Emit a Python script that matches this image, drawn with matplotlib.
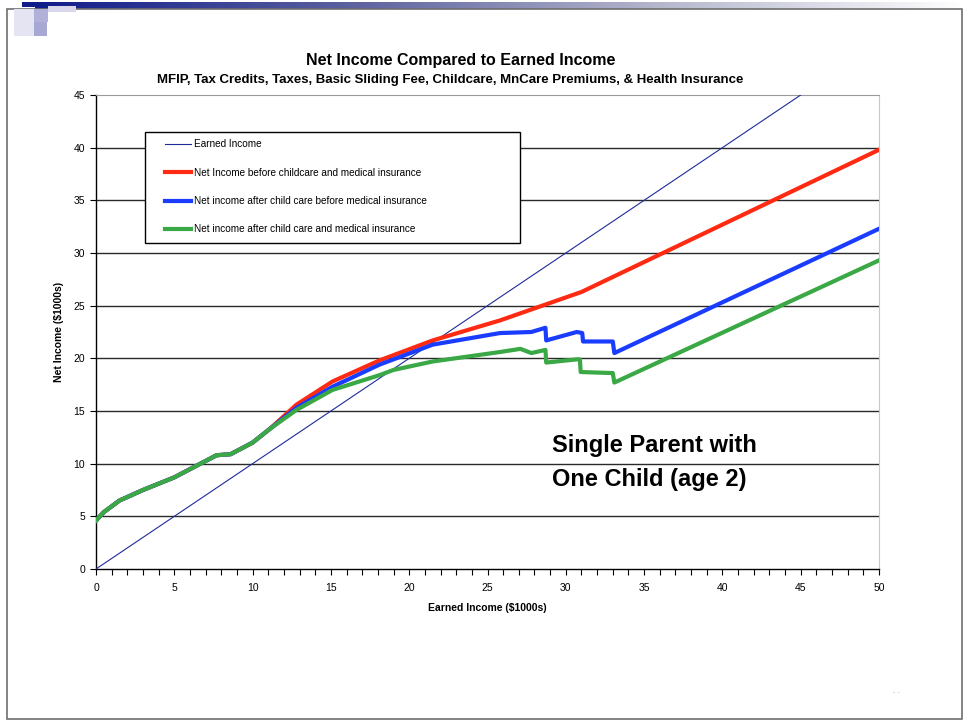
import numpy as np
import matplotlib.pyplot as plt
from matplotlib.patches import Rectangle

plt.rcParams['font.family'] = ['Liberation Sans', 'DejaVu Sans']

# Earned income (identity line)
earned_x = [0, 50]
earned_y = [0, 50]

# Net income before childcare and medical insurance
red_x = [0, 0.5, 1.5, 3, 5, 7.7, 8.6, 10, 11.1, 12.8, 15.1, 18.1, 21.5, 25.8, 31, 50]
red_y = [4.6, 5.4, 6.5, 7.5, 8.7, 10.8, 10.9, 12.0, 13.3, 15.6, 17.8, 19.8, 21.7, 23.6, 26.3, 39.8]

# Net income after child care before medical insurance
blue_x = [0, 0.5, 1.5, 3, 5, 7.7, 8.6, 10, 11.1, 12.8, 15.1, 18.1, 21.5, 25.8, 27.8,
          28.7, 28.75, 30.7, 31.05, 31.1, 33.0, 33.1, 50]
blue_y = [4.6, 5.4, 6.5, 7.5, 8.7, 10.8, 10.9, 12.0, 13.3, 15.3, 17.3, 19.4, 21.3, 22.4, 22.5,
          22.9, 21.7, 22.5, 22.4, 21.6, 21.6, 20.5, 32.3]

# Net income after child care and medical insurance
green_x = [0, 0.5, 1.5, 3, 5, 7.7, 8.6, 10, 11.1, 12.8, 15.1, 18.1, 19.0, 21.5, 25.8, 27.1,
           27.8, 28.7, 28.75, 30.7, 30.9, 30.95, 33.0, 33.1, 50]
green_y = [4.6, 5.4, 6.5, 7.5, 8.7, 10.8, 10.9, 12.0, 13.3, 15.1, 17.0, 18.4, 18.9, 19.7, 20.6, 20.9,
           20.5, 20.8, 19.6, 19.9, 19.9, 18.7, 18.6, 17.7, 29.3]

labels = ["Earned Income",
          "Net Income before childcare and medical insurance",
          "Net income after child care before medical insurance",
          "Net income after child care and medical insurance"]

W, H = 966, 723
fig = plt.figure(figsize=(W / 100, H / 100), dpi=100)

# slide decoration: frame, gradient bar, squares
deco = fig.add_axes([0, 0, 1, 1], zorder=-5)
deco.set_xlim(0, W)
deco.set_ylim(H, 0)
deco.axis('off')
grad = np.linspace(0, 1, 256).reshape(1, -1)
deco.imshow(grad, extent=(35, W, 9, 2), aspect='auto',
            cmap=plt.matplotlib.colors.LinearSegmentedColormap.from_list(
                'bar', ['#101c8a', '#5a5f9e', '#b4b6cc', '#ffffff']))
deco.add_patch(Rectangle((7, 9), W - 11, H - 13, fill=False, ec='#6e6e6e', lw=1.2))
deco.add_patch(Rectangle((14, 9), 20, 27, fc='#e4e4f2', ec='none'))
deco.add_patch(Rectangle((34, 9), 14, 13, fc='#b0b0d8', ec='none'))
deco.add_patch(Rectangle((48, 6), 28, 6, fc='#d8d8ea', ec='none'))
deco.add_patch(Rectangle((34, 22), 13, 14, fc='#a8a8d4', ec='none'))
deco.add_patch(Rectangle((22, 2), 13, 5, fc='#101c8a', ec='none'))

ax = fig.add_axes([96 / W, 1 - 569 / H, (879 - 96) / W, (569 - 95) / H])

for gy in range(5, 45, 5):
    ax.axhline(gy, color='#2a2a2a', lw=1.0, zorder=1)

ax.plot(earned_x, earned_y, color='#1f2a9a', lw=0.8, label=labels[0], zorder=3)
ax.plot(red_x, red_y, color='#ff2a12', lw=3.0, label=labels[1], zorder=4)
ax.plot(blue_x, blue_y, color='#1a3cff', lw=3.0, label=labels[2], zorder=5)
ax.plot(green_x, green_y, color='#3aa845', lw=3.0, label=labels[3], zorder=6)

ax.set_xlim(0, 50)
ax.set_ylim(0, 45)
ax.set_xticks(range(0, 51, 5))
ax.set_xticks(range(0, 51, 1), minor=True)
ax.set_yticks(range(0, 46, 5))
ax.tick_params(axis='both', labelsize=7.5, length=4, width=0.8, direction='out')
ax.tick_params(axis='x', which='both', pad=6)
ax.tick_params(axis='y', pad=4)
ax.tick_params(axis='x', which='minor', length=4, width=0.8)
for s in ['left', 'bottom']:
    ax.spines[s].set_color('black')
    ax.spines[s].set_linewidth(1.0)
ax.spines['top'].set_color('#9a9a9a')
ax.spines['right'].set_color('#c8c8c8')

ax.set_xlabel("Earned Income ($1000s)", fontsize=7.5, fontweight='bold', labelpad=7.5)
ax.set_ylabel("Net Income ($1000s)", fontsize=7.5, fontweight='bold', labelpad=6.5)

# legend box drawn separately so the entries sit inset like the original
ax.add_patch(Rectangle((0.0626, 0.688), 0.479, 0.234, transform=ax.transAxes,
                       fc='white', ec='black', lw=1.0, zorder=7))
leg = ax.legend(loc='upper left', bbox_to_anchor=((165 - 96) / 783, (569 - 139) / 474),
                fontsize=7.2, frameon=False, labelspacing=1.85, handlelength=2.55,
                handletextpad=0.3, borderpad=0, borderaxespad=0)
leg.set_zorder(8)

ax.text(29.1, 10.1, "Single Parent with\nOne Child (age 2)", fontsize=17,
        fontweight='bold', linespacing=1.6, va='center', ha='left')

fig.text(461 / W, 1 - 60 / H, "Net Income Compared to Earned Income",
         fontsize=11.5, fontweight='bold', ha='center', va='center')
fig.text(450 / W, 1 - 80 / H,
         "MFIP, Tax Credits, Taxes, Basic Sliding Fee, Childcare, MnCare Premiums, & Health Insurance",
         fontsize=9.5, fontweight='bold', ha='center', va='center')
fig.text(896 / W, 1 - 693 / H, "- -", fontsize=5, color='#bbbbbb', ha='center', va='center')

fig.savefig('out.png', dpi=100)
